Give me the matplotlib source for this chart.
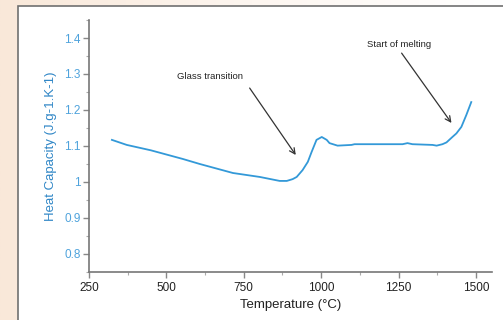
import numpy as np
import matplotlib
matplotlib.use('Agg')
import matplotlib.pyplot as plt
from matplotlib.patches import Rectangle
from matplotlib.ticker import MultipleLocator

# heat capacity curve
temp = [324, 372, 450, 553, 608, 715, 802, 866, 889, 908, 921, 940, 957,
        969, 985, 1002, 1018, 1027, 1053, 1098, 1108, 1263, 1279, 1295, 1360,
        1373, 1392, 1405, 1424, 1437, 1453, 1469, 1485]
cp = [1.117, 1.103, 1.088, 1.064, 1.05, 1.025, 1.014, 1.003, 1.003, 1.008,
      1.014, 1.033, 1.056, 1.083, 1.117, 1.125, 1.117, 1.108, 1.101, 1.103,
      1.105, 1.105, 1.108, 1.105, 1.103, 1.101, 1.105, 1.110, 1.125, 1.135,
      1.153, 1.186, 1.222]

x_ticks = [250, 500, 750, 1000, 1250, 1500]
y_ticks = [0.8, 0.9, 1.0, 1.1, 1.2, 1.3, 1.4]
y_tick_labels = ['0.8', '0.9', '1', '1.1', '1.2', '1.3', '1.4']

plt.rcParams['font.family'] = ['Liberation Sans', 'DejaVu Sans']

W, H = 503, 320
fig = plt.figure(figsize=(W / 100, H / 100), dpi=100)

# page background and framed panel
bg = fig.add_axes([0, 0, 1, 1])
grad = np.linspace(0, 1, 256)[None, :]
cmap_bg = matplotlib.colors.LinearSegmentedColormap.from_list('bg', ['#f9e8d9', '#fdf6f0', '#ffffff'])
bg.imshow(grad, extent=[0, 1, 0, 1], aspect='auto', cmap=cmap_bg)
bg.add_patch(Rectangle((18 / W, -0.1), 1.2, 1 - 6 / H + 0.1, transform=bg.transAxes,
                       facecolor='white', edgecolor='#707070', linewidth=1.2))
bg.set_xlim(0, 1)
bg.set_ylim(0, 1)
bg.axis('off')

left, right, top, bottom = 89, 492, 20, 272
ax = fig.add_axes([left / W, 1 - bottom / H, (right - left) / W, (bottom - top) / H])
ax.set_facecolor('none')

line_color = '#3399d8'
ax.plot(temp, cp, color=line_color, linewidth=1.3)

ax.set_xlim(250, 1552)
ax.set_ylim(0.75, 1.45)
ax.set_xticks(x_ticks)
ax.set_yticks(y_ticks)
ax.set_yticklabels(y_tick_labels)
ax.xaxis.set_minor_locator(MultipleLocator(125))
ax.yaxis.set_minor_locator(MultipleLocator(0.05))

for s in ['top', 'right']:
    ax.spines[s].set_visible(False)
for s in ['left', 'bottom']:
    ax.spines[s].set_color('#777777')
    ax.spines[s].set_linewidth(1.2)

ax.tick_params(axis='both', which='major', length=4, width=1, color='#888888', labelsize=8.5)
ax.tick_params(axis='both', which='minor', length=2, width=0.8, color='#aaaaaa')
ax.tick_params(axis='y', labelcolor='#4fa3dc', pad=2)
ax.tick_params(axis='x', labelcolor='#222222', pad=3)

ax.set_xlabel('Temperature (°C)', fontsize=9.5, color='#222222', labelpad=4)
ax.set_ylabel('Heat Capacity (J.g-1.K-1)', fontsize=9.5, color='#2f86c6', labelpad=5)

arrow = dict(arrowstyle='->', color='#333333', linewidth=0.9, shrinkA=0, shrinkB=0)
ax.annotate('', xy=(918, 1.075), xytext=(769, 1.261), arrowprops=arrow)
ax.text(534, 1.294, 'Glass transition', fontsize=6.8, color='#222222', va='center', ha='left')
ax.annotate('', xy=(1421, 1.164), xytext=(1260, 1.358), arrowprops=arrow)
ax.text(1147, 1.383, 'Start of melting', fontsize=6.8, color='#222222', va='center', ha='left')

plt.savefig('out.png', dpi=100)
